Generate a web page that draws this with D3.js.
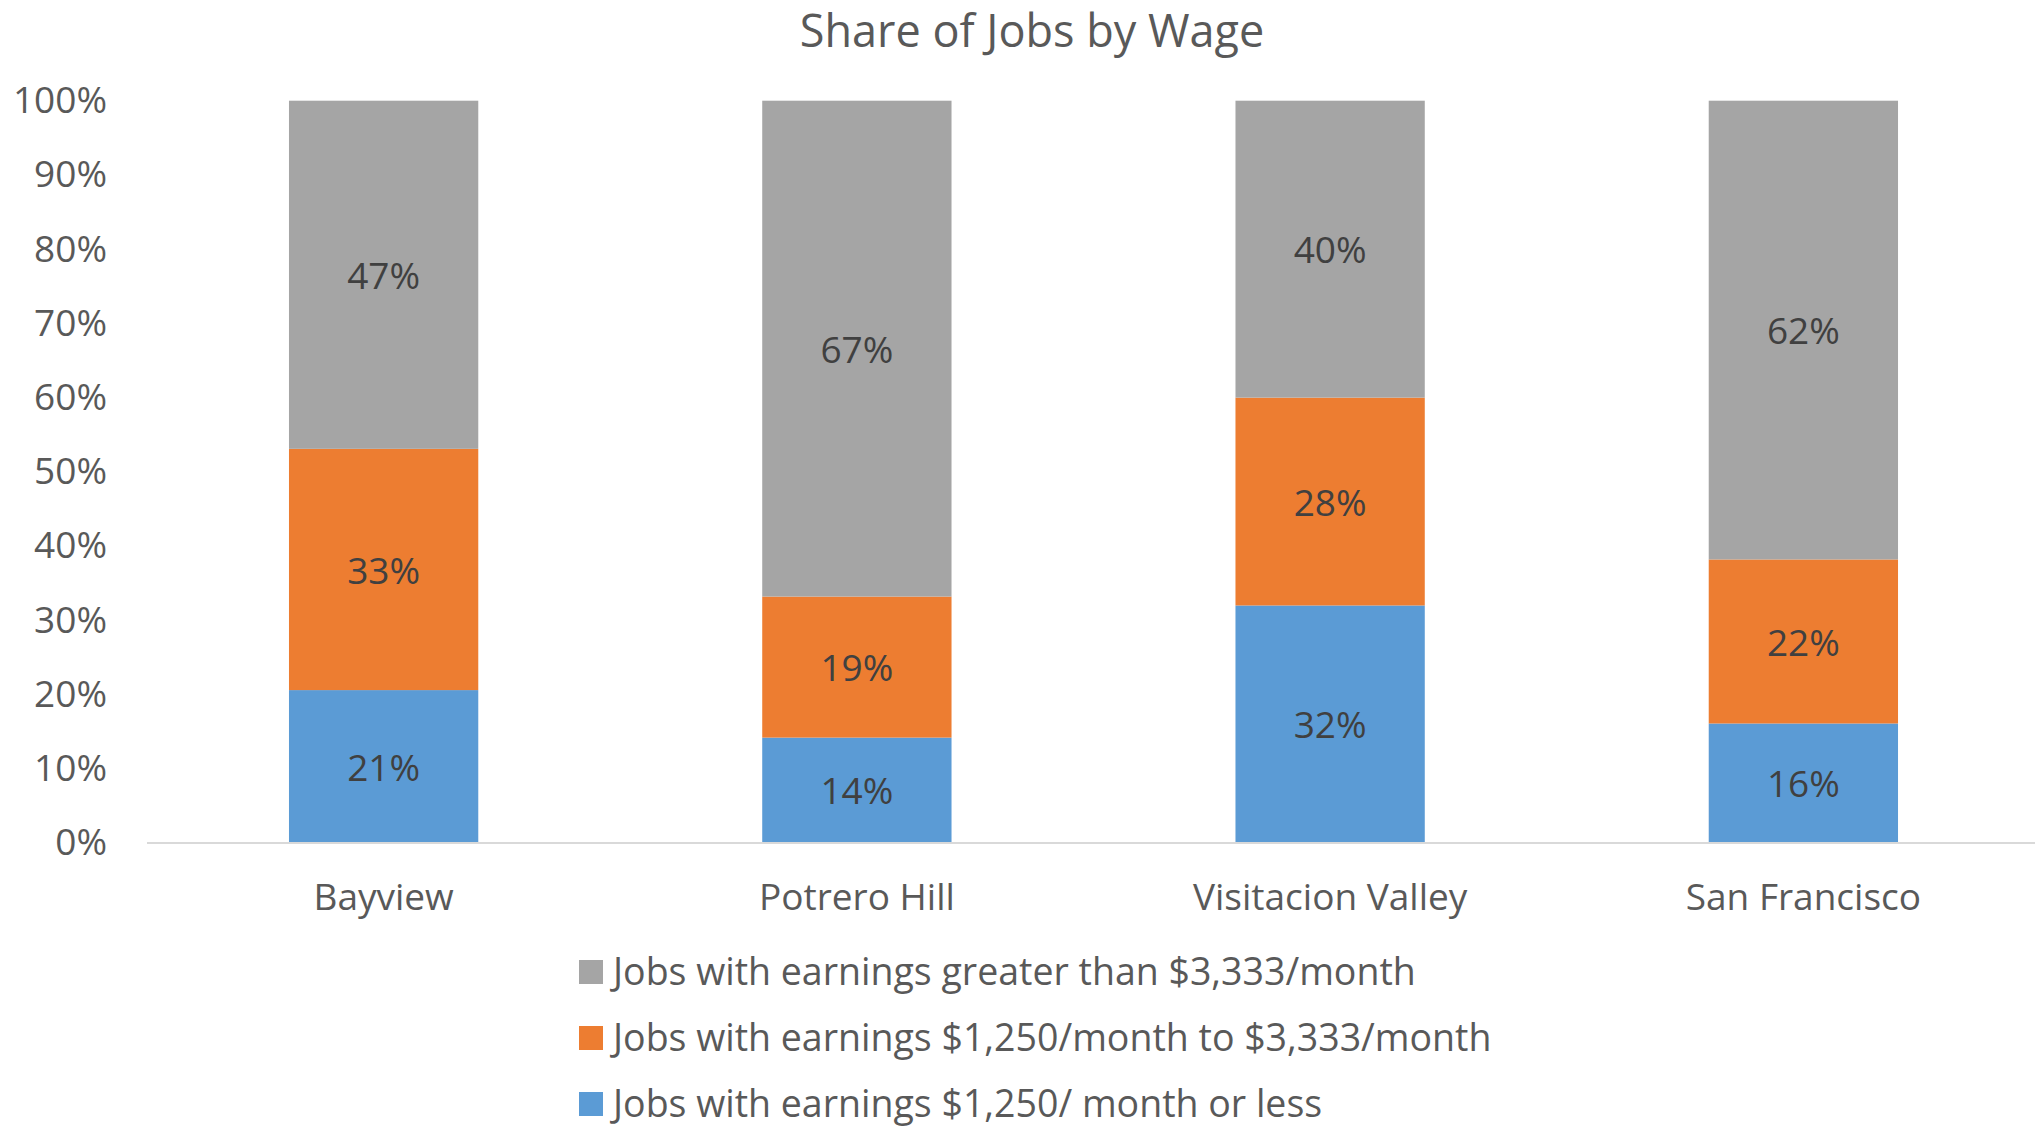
<!DOCTYPE html>
<html>
<head>
<meta charset="utf-8">
<script src="https://cdnjs.cloudflare.com/ajax/libs/d3/7.8.5/d3.min.js"></script>
<style>
  body { margin: 0; background: #fff; }
  svg { display: block; font-family: "Open Sans", "Noto Sans", sans-serif; }
</style>
</head>
<body>
<svg id="canvas" width="2035" height="1129"></svg>
<script>
// chart data
var categories = ["Bayview", "Potrero Hill", "Visitacion Valley", "San Francisco"];
var lowWage = [0.206, 0.142, 0.320, 0.161];   // $1,250/ month or less
var midWage = [0.325, 0.190, 0.280, 0.221];   // $1,250 to $3,333
var highWage = [0.469, 0.668, 0.400, 0.618];  // greater than $3,333
var seriesKeys = ["low", "mid", "high"];
var seriesNames = [
    "Jobs with earnings $1,250/ month or less",
    "Jobs with earnings $1,250/month to $3,333/month",
    "Jobs with earnings greater than $3,333/month"
];
var yTicks = [0, 0.1, 0.2, 0.3, 0.4, 0.5, 0.6, 0.7, 0.8, 0.9, 1];

var colors = { low: "#5b9bd5", mid: "#ed7d31", high: "#a5a5a5" };

let rows = categories.map((c, i) => {
    return { cat: c, low: lowWage[i], mid: midWage[i], high: highWage[i] }
});

let svg = d3.select("#canvas");

let x = d3.scaleBand()
    .domain(categories)
    .range([147, 2040])
    .paddingInner(0.6)
    .paddingOuter(0.3);

let y = d3.scaleLinear()
    .domain([0, 1])
    .range([843, 100.7]);

// title
svg.append("text")
    .attr("x", 1032)
    .attr("y", 47)
    .attr("text-anchor", "middle")
    .style("font-size", "45px")
    .style("fill", "#595959")
    .text("Share of Jobs by Wage");

// y axis (labels only)
let yAxis = d3.axisLeft(y)
    .tickValues(yTicks)
    .tickFormat(d3.format(".0%"))
    .tickSize(0)
    .tickPadding(40);

let yg = svg.append("g")
    .attr("transform", "translate(147,0)")
    .call(yAxis);
yg.select(".domain").remove();
yg.selectAll("text")
    .style("font-size", "37px")
    .style("font-family", "'Open Sans', sans-serif")
    .style("fill", "#595959");

// stacked bars
let stacked = d3.stack().keys(seriesKeys)(rows);

let layer = svg.selectAll("g.layer")
    .data(stacked)
    .enter()
    .append("g")
    .attr("class", "layer")
    .attr("fill", (s) => colors[s.key]);

layer.selectAll("rect")
    .data((s) => s)
    .enter()
    .append("rect")
    .attr("x", (d) => x(d.data.cat))
    .attr("y", (d) => y(d[1]))
    .attr("width", x.bandwidth())
    .attr("height", (d) => y(d[0]) - y(d[1]));

layer.selectAll("text")
    .data((s) => s)
    .enter()
    .append("text")
    .attr("x", (d) => x(d.data.cat) + x.bandwidth() / 2)
    .attr("y", (d) => (y(d[0]) + y(d[1])) / 2)
    .attr("dy", "0.38em")
    .attr("text-anchor", "middle")
    .style("font-size", "37px")
    .style("fill", "#404040")
    .text((d) => d3.format(".0%")(d[1] - d[0]));

// x axis
let xAxis = d3.axisBottom(x).tickSize(0).tickPadding(41);
let xg = svg.append("g")
    .attr("transform", "translate(0,843)")
    .call(xAxis);
xg.select(".domain")
    .attr("d", "M147,0H2035")
    .style("stroke", "#d9d9d9")
    .style("stroke-width", 2);
xg.selectAll("text")
    .style("font-size", "37px")
    .style("font-family", "'Open Sans', sans-serif")
    .style("fill", "#595959");

// legend (top to bottom: high, mid, low)
let legendOrder = [2, 1, 0];
let legend = svg.selectAll("g.legend")
    .data(legendOrder)
    .enter()
    .append("g")
    .attr("class", "legend")
    .attr("transform", (k, i) => "translate(579," + (960 + i * 66) + ")");

legend.append("rect")
    .attr("width", 24)
    .attr("height", 24)
    .attr("fill", (k) => colors[seriesKeys[k]]);

legend.append("text")
    .attr("x", 34)
    .attr("y", 12)
    .attr("dy", "0.34em")
    .style("font-size", "37.5px")
    .style("fill", "#595959")
    .text((k) => seriesNames[k]);
</script>
</body>
</html>
